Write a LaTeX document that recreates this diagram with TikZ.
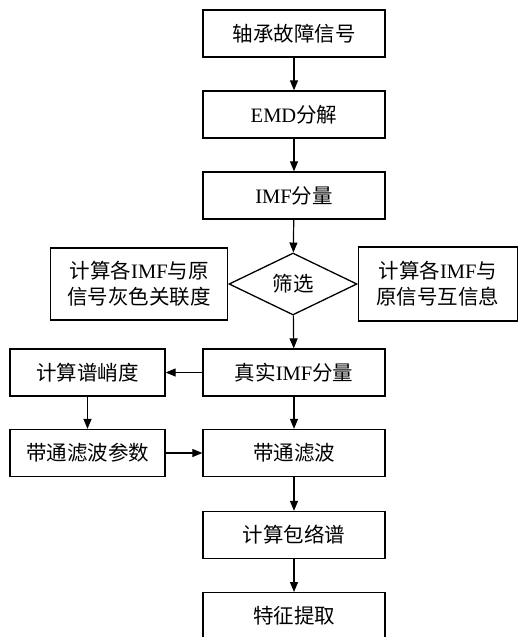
\documentclass[tikz,border=0pt]{standalone}
\usepackage{fontspec}
\setmainfont{Liberation Serif}
\newfontfamily\cjk{Noto Sans CJK SC}
\usetikzlibrary{shapes}
\usetikzlibrary{arrows.meta}
\usetikzlibrary{positioning}

\begin{document}
\begin{tikzpicture}[x=1pt,y=-1pt,
    box/.style={draw,line width=1.3pt,inner sep=0pt,minimum height=47pt,align=center,font=\fontsize{20.5}{26}\selectfont},
    mainbox/.style={box,minimum width=182pt},
    sidebox/.style={box,minimum width=155pt},
    choice/.style={draw,diamond,line width=1.3pt,inner sep=0pt,aspect=2,minimum width=128pt,minimum height=62pt,font=\fontsize{20.5}{26}\selectfont},
    arr/.style={-{Triangle[length=10pt,width=8pt]},line width=1.2pt}]
  \useasboundingbox (0,0) rectangle (520,637);
  \clip (0,0) rectangle (520,637);
  % main column
  \node[mainbox] (signal) at (294,33.5) {{\cjk 轴承故障信号}};
  \node[mainbox] (emd) at (294,114.5) {EMD{\cjk 分解}};
  \node[mainbox] (imf) at (294,195.5) {IMF{\cjk 分量}};
  \node[choice] (select) at (293,284) {{\cjk 筛选}};
  \node[box,minimum width=177pt,minimum height=72pt,anchor=east] (grey) at (select.west) {{\cjk 计算各}IMF{\cjk 与原}\\{\cjk 信号灰色关联度}};
  \node[box,minimum width=159pt,minimum height=74pt,anchor=west] (mutual) at (select.east) {{\cjk 计算各}IMF{\cjk 与}\\{\cjk 原信号互信息}};
  \node[mainbox] (realimf) at (294,372.5) {{\cjk 真实}IMF{\cjk 分量}};
  \node[mainbox] (bandpass) at (294,453) {{\cjk 带通滤波}};
  \node[mainbox] (envelope) at (294,535) {{\cjk 计算包络谱}};
  \node[mainbox,anchor=north] (feature) at (294,592) {{\cjk 特征提取}};
  % side column
  \node[sidebox] (kurtosis) at (87.5,372.5) {{\cjk 计算谱峭度}};
  \node[sidebox] (param) at (87.5,453) {{\cjk 带通滤波参数}};

  \draw[arr] (signal) -- (emd);
  \draw[arr] (emd) -- (imf);
  \draw[arr] (imf) -- (select);
  \draw[arr] (select) -- (realimf);
  \draw[arr] (realimf) -- (kurtosis);
  \draw[arr] (kurtosis) -- (param);
  \draw[arr] (param) -- (bandpass);
  \draw[arr] (realimf) -- (bandpass);
  \draw[arr] (bandpass) -- (envelope);
  \draw[arr] (envelope) -- (feature);
\end{tikzpicture}
\end{document}
